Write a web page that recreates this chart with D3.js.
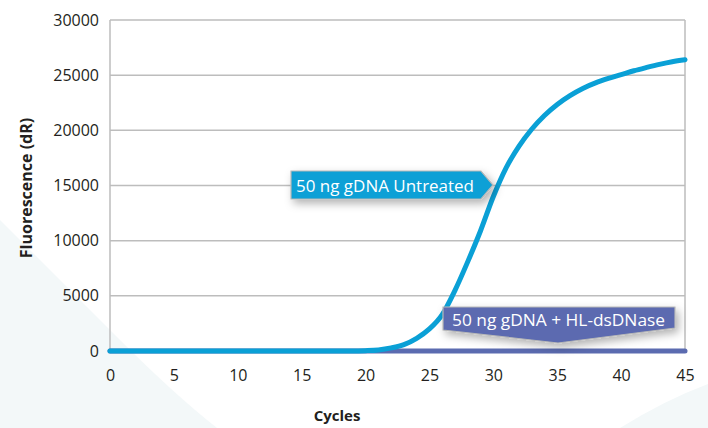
<!DOCTYPE html>
<html>
<head>
<meta charset="utf-8">
<script src="https://cdn.jsdelivr.net/npm/d3@7"></script>
<style>
  body { margin: 0; background: #fff; }
  svg { display: block; }
  text { font-family: "Open Sans", "DejaVu Sans", sans-serif; fill: #231f20; }
</style>
</head>
<body>
<div id="chart"></div>
<script>
// values
const cycles = d3.range(0, 46);
const untreated = [0, 0, 0, 0, 0, 0, 0, 0, 0, 0,
                   0, 0, 0, 0, 0, 0, 0, 0, 0, 0,
                   30, 100, 280, 580, 1150, 2000, 3300, 5500, 8100, 10900,
                   14000, 16600, 18550, 20100, 21350, 22350, 23150, 23800, 24300, 24700,
                   25050, 25400, 25700, 25980, 26220, 26400];
const treated = cycles.map(() => 0);
const xTicks = [0, 5, 10, 15, 20, 25, 30, 35, 40, 45];
const yTicks = [0, 5000, 10000, 15000, 20000, 25000, 30000];
const untreatedLabel = "50 ng gDNA Untreated";
const treatedLabel = "50 ng gDNA + HL-dsDNase";

const width = 708, height = 428;
const margin = {left: 110, right: 23, top: 20, bottom: 77};

const svg = d3.select("#chart").append("svg")
    .attr("width", width)
    .attr("height", height);

// faint background shapes
svg.append("path")
    .attr("d", "M0,220 Q60,280 120,340 Q175,395 217,428 L0,428 Z")
    .attr("fill", "#f3f8f9");
svg.append("path")
    .attr("d", "M620,428 Q665,400 708,384 L708,428 Z")
    .attr("fill", "#f3f8f9");

const defs = svg.append("defs");
defs.append("filter")
    .attr("id", "shadow")
    .attr("x", "-20%").attr("y", "-50%")
    .attr("width", "150%").attr("height", "250%")
  .append("feDropShadow")
    .attr("dx", 3).attr("dy", 4)
    .attr("stdDeviation", 4)
    .attr("flood-color", "#000")
    .attr("flood-opacity", 0.3);

const x = d3.scaleLinear()
    .domain([0, 45])
    .range([margin.left, width - margin.right]);
const y = d3.scaleLinear()
    .domain([0, 30000])
    .range([height - margin.bottom, margin.top]);

// gridlines
svg.append("g")
    .selectAll("line")
    .data(yTicks.filter(d => d > 0))
    .enter().append("line")
    .attr("x1", x(0)).attr("x2", x(45))
    .attr("y1", d => y(d)).attr("y2", d => y(d))
    .attr("stroke", "#bdbdbd")
    .attr("stroke-width", 1.5);

// left and right frame lines
svg.append("line")
    .attr("x1", x(0)).attr("x2", x(0))
    .attr("y1", y(30000)).attr("y2", y(0))
    .attr("stroke", "#bdbdbd").attr("stroke-width", 1.5);
svg.append("line")
    .attr("x1", x(45)).attr("x2", x(45))
    .attr("y1", y(30000)).attr("y2", y(0))
    .attr("stroke", "#bdbdbd").attr("stroke-width", 1.5);

// axes
const yAxis = svg.append("g")
    .attr("transform", "translate(" + x(0) + ",0)")
    .call(d3.axisLeft(y).tickValues(yTicks).tickSize(0).tickPadding(11).tickFormat(d3.format("d")));
const xAxis = svg.append("g")
    .attr("transform", "translate(0," + y(0) + ")")
    .call(d3.axisBottom(x).tickValues(xTicks).tickSize(0).tickPadding(19));
[xAxis, yAxis].forEach(function(a){
    a.select(".domain").remove();
    a.selectAll("text")
        .attr("font-family", "Open Sans, sans-serif")
        .attr("font-size", 16)
        .attr("fill", "#231f20");
});

// axis titles
svg.append("text")
    .attr("x", 337).attr("y", 421)
    .attr("text-anchor", "middle")
    .attr("font-size", 15).attr("font-weight", "bold")
    .text("Cycles");
svg.append("text")
    .attr("transform", "translate(32," + 188 + ") rotate(-90)")
    .attr("text-anchor", "middle")
    .attr("font-size", 16).attr("font-weight", "bold")
    .text("Fluorescence (dR)");

// series
const line = d3.line()
    .x((d, i) => x(cycles[i]))
    .y(d => y(d))
    .curve(d3.curveMonotoneX);

svg.append("path")
    .datum(treated)
    .attr("d", line)
    .attr("fill", "none")
    .attr("stroke", "#5b6bb0")
    .attr("stroke-width", 5)
    .attr("stroke-linecap", "round");

svg.append("path")
    .datum(untreated)
    .attr("d", line)
    .attr("fill", "none")
    .attr("stroke", "#0aa0d6")
    .attr("stroke-width", 5)
    .attr("stroke-linecap", "round");

// callout: untreated (points right, at the curve)
let c1 = svg.append("g");
c1.append("path")
    .attr("d", "M291,171 L481,171 L493,185 L481,199 L291,199 Z")
    .attr("fill", "#0aa0d6")
    .attr("stroke", "#b8b8b8")
    .attr("stroke-width", 1.2)
    .attr("filter", "url(#shadow)");
c1.append("text")
    .attr("x", 296).attr("y", 191.5)
    .attr("font-size", 17)
    .attr("textLength", 178)
    .attr("lengthAdjust", "spacingAndGlyphs")
    .style("fill", "#fff")
    .text(untreatedLabel);

// callout: treated (points down, at the flat line)
let c2 = svg.append("g");
c2.append("path")
    .attr("d", "M443,307 L675,307 L675,328 L558,343 L443,330 Z")
    .attr("fill", "#5b6bb0")
    .attr("stroke", "#b8b8b8")
    .attr("stroke-width", 1.2)
    .attr("filter", "url(#shadow)");
c2.append("text")
    .attr("x", 452).attr("y", 326)
    .attr("font-size", 17)
    .attr("textLength", 213)
    .attr("lengthAdjust", "spacingAndGlyphs")
    .style("fill", "#fff")
    .text(treatedLabel);
</script>
</body>
</html>
